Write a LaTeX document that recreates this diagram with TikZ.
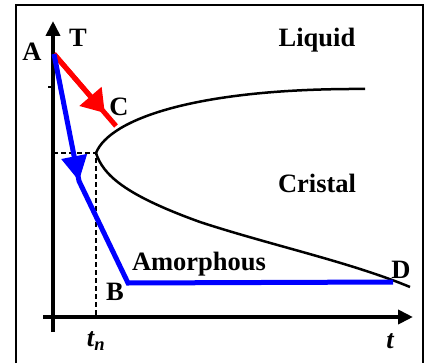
\documentclass[tikz,border=0pt]{standalone}
\usepackage{fontspec}
\setmainfont{Liberation Serif}
\usepackage{xcolor}
\definecolor{pathred}{RGB}{255,0,0}
\definecolor{pathblue}{RGB}{0,0,255}
\usepackage{tikz}
\usetikzlibrary{arrows.meta, calc}

\begin{document}
\begin{tikzpicture}[x=1pt, y=-1pt,
  lbl/.style={font=\fontsize{26.5}{26.5}\selectfont\bfseries, inner sep=0pt},
  axisline/.style={line width=4pt, -{Triangle[length=15pt,width=14pt]}},
  curveline/.style={line width=2.5pt},
  dashline/.style={line width=1.8pt, dash pattern=on 5pt off 3pt},
  redpath/.style={pathred, line width=5pt},
  bluepath/.style={pathblue, line width=5pt}]
  \useasboundingbox (0,0) rectangle (427,363);
  % Frame
  \draw[line width=1.6pt] (16,363) -- (16,5) -- (423,5) -- (423,363);

  % Points
  \coordinate (O) at (53,317);
  \coordinate (A) at (54,54);
  \coordinate (C) at (116,126);
  \coordinate (N) at (96,153);
  \coordinate (Ty) at (53,153);
  \coordinate (Tn) at (96,317);
  \coordinate (K) at (79,181);
  \coordinate (B) at (128,283);
  \coordinate (D) at (393,282);

  % Axes
  \draw[axisline] (53,332) -- (53,21);
  \draw[axisline] (43,317) -- (413,317);
  \draw[line width=1.2pt] (48,87) -- (53,87);

  % Phase boundary
  \draw[curveline] (N) .. controls (110,118) and (200,88) .. (365,89);
  \draw[curveline] (N) .. controls (103,175) and (125,195) .. (200,222)
    .. controls (270,245) and (350,262) .. (410,287);

  % Dashed guides
  \draw[dashline] (Ty) -- (N) -- (Tn);

  % Fast cooling (red)
  \draw[redpath] (A) -- (C);
  \coordinate (Rtip) at ($(A)!0.82!(C)$);
  \draw[redpath, -{Triangle[length=22pt,width=28pt]}] (A) -- (Rtip);

  % Slow cooling (blue)
  \draw[bluepath, -{Triangle[length=25pt,width=25pt]}] (A) -- (K);
  \draw[bluepath, line join=miter] ($(A)!0.9!(K)$) -- (K) -- (B) -- (D);

  % Labels
  \node[lbl] (lA) at (32,52) {A};
  \node[lbl] (lT) at (78,38) {T};
  \node[lbl] (lC) at (119,107) {C};
  \node[lbl] (lLiq) at (317,40) {Liquid};
  \node[lbl] (lCri) at (317,183) {Cristal};
  \node[lbl] (lAmo) at (199,264) {Amorphous};
  \node[lbl] (lB) at (115,292) {B};
  \node[lbl] (lD) at (401,270) {D};
  \node[lbl, font=\fontsize{26.5}{26.5}\selectfont\bfseries\itshape] (ltn) at (96,341) {t\textsubscript{n}};
  \node[lbl, font=\fontsize{26.5}{26.5}\selectfont\bfseries\itshape] (lt) at (390,341) {t};
\end{tikzpicture}
\end{document}
